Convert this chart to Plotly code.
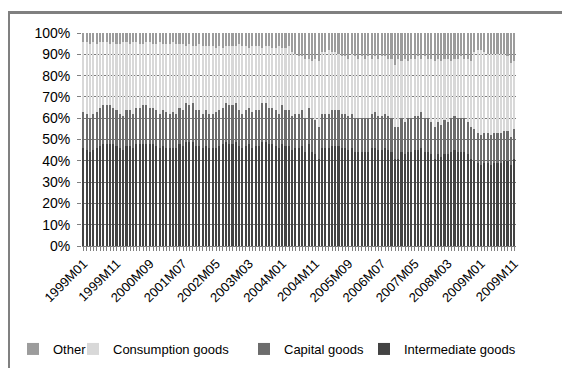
import plotly.graph_objects as go

# Months 1999M01 .. 2009M11
months = [f"{y}M{m:02d}" for y in range(1999, 2010) for m in range(1, 13)][:131]

intermediate = [46, 45, 44, 45, 46, 47, 48, 48, 48, 48, 47, 46, 45, 47, 47, 46, 48, 48, 48, 48,
                48, 48, 47, 46, 47, 46, 46, 46, 46, 48, 47, 49, 49, 49, 47,
                47, 46, 47, 46, 46, 46, 47, 48, 49, 48, 48, 49, 47, 46, 47, 48, 46, 47, 47, 49,
                49, 48, 48, 47, 46, 48, 47, 47, 45, 46, 46, 47, 44, 48, 44, 43, 41, 46, 46, 46,
                47, 47, 47, 46, 46, 45, 46, 44, 44, 44, 44, 44, 46, 46, 45,
                45, 46, 45, 44, 41, 41, 44, 43, 44, 44, 45, 45, 46, 44, 44, 43, 41, 43, 42, 43,
                43, 44, 45, 44, 44, 44, 43, 41, 40, 39, 38, 39, 39, 38, 39, 39, 39, 40, 40, 38, 41]

capital = [17, 17, 16, 17, 17, 18, 18, 18, 18, 17, 17, 16, 16, 17, 17, 16, 17, 17, 18, 18,
           17, 17, 17, 16, 17, 17, 16, 17, 16, 17, 17, 18, 17, 18, 17,
           17, 16, 17, 16, 16, 17, 17, 17, 18, 18, 18, 18, 17, 16, 17, 17, 17, 17, 17, 18,
           18, 17, 17, 17, 16, 18, 17, 17, 16, 16, 16, 17, 16, 17, 16, 16, 15, 16, 16, 16,
           17, 17, 17, 16, 16, 16, 16, 16, 16, 16, 16, 16, 16, 17, 16,
           16, 16, 16, 16, 15, 15, 16, 15, 16, 16, 16, 16, 17, 16, 16, 15, 15, 15, 15, 16,
           15, 16, 16, 16, 16, 16, 15, 15, 15, 14, 14, 14, 14, 14, 14, 14, 14, 14, 14, 13, 14]

consumption = [33, 34, 35, 34, 32, 31, 30, 30, 29, 31, 31, 33, 35, 32, 31, 34, 31, 30, 29, 30,
               31, 30, 31, 34, 31, 32, 33, 33, 33, 30,
               31, 27, 29, 27, 30,
               31, 32, 30, 32, 32, 30, 30, 28, 27, 28,
               28, 27, 31, 32, 30, 28, 31, 30, 30, 26, 27, 29, 28, 29, 32, 27, 29, 30,
               30, 28, 27, 25, 28, 23, 27, 29, 31,
               29, 29, 30, 27, 27,
               26, 27, 27, 27, 28, 29, 28, 29, 28, 29, 26, 26, 27, 28, 27, 27, 28,
               29,
               32, 27, 30, 27, 28, 27, 28, 25, 29, 28,
               30, 31, 30, 30, 29, 30, 27, 27, 28, 29, 28, 30, 31,
               36, 39, 40, 38, 37, 38, 37, 37, 37, 36, 35,
               35, 32]

other = [4, 4, 5, 4, 5, 4, 4, 4, 5, 4, 5, 5, 4, 4, 5, 4, 4, 5, 5, 4, 4, 5, 5, 4, 5, 5, 5, 4, 5, 5,
         5, 6, 5, 6, 6, 5, 6, 6, 6, 6, 7, 6, 7, 6, 6,
         6, 6, 5, 6, 6, 7, 6, 6, 6, 7, 6, 6, 7, 7, 6, 7, 7, 6,
         9, 10, 11, 11, 12, 12, 13, 12, 13,
         9, 9, 8, 9, 9,
         10, 11, 11, 12, 10, 11, 12, 11, 12, 11, 12, 11, 12, 11, 11, 12, 12,
         15,
         12, 13, 12, 13, 12, 12, 11, 12, 11, 12,
         12, 13, 12, 13, 12, 12, 13, 12, 12, 11, 12, 12, 13,
         9, 8, 8, 9, 10, 10, 10, 10, 10, 10, 11,
         14, 13]

tick_labels = ["1999M01", "1999M11", "2000M09", "2001M07", "2002M05", "2003M03", "2004M01",
               "2004M11", "2005M09", "2006M07", "2007M05", "2008M03", "2009M01", "2009M11"]
y_ticks = [0, 10, 20, 30, 40, 50, 60, 70, 80, 90, 100]

x = list(range(len(months)))
tick_pos = [months.index(t) for t in tick_labels]

# The page body adds an 8px offset; layout below is expressed in figure pixels.
OFF = 8
W, H = 570, 368
PL, PR, PT, PB = 82 - OFF, 516 - OFF, 33 - OFF, 246 - OFF   # plot area in figure px
PW, PHt = PR - PL, PB - PT

# name, values, colour, legend id, legend left (viewport px)
series = [("Intermediate goods", intermediate, "#434343", "legend4", 364),
          ("Capital goods", capital, "#6c6c6c", "legend3", 244),
          ("Consumption goods", consumption, "#d8d8d8", "legend2", 73),
          ("Other", other, "#9c9c9c", "legend", 13)]

fig = go.Figure()
legends = {}
for name, vals, col, lg, lx in series:
    fig.add_trace(go.Bar(x=x, y=vals, name=name, legend=lg,
                         marker=dict(color=col, line=dict(width=0)),
                         customdata=months,
                         hovertemplate="%{customdata}: %{y}<extra>" + name + "</extra>"))
    legends[lg] = dict(orientation="h", xref="container", yref="container",
                       x=(lx - OFF) / W, xanchor="left", y=1 - (349 - OFF) / H, yanchor="middle",
                       font=dict(size=13, color="#000000"), itemwidth=30,
                       bgcolor="rgba(0,0,0,0)")

fig.update_layout(
    width=W, height=H,
    margin=dict(l=PL, r=W - PR, t=PT, b=H - PB, autoexpand=False),
    barmode="stack", barnorm="percent", bargap=0.52,
    plot_bgcolor="white", paper_bgcolor="white",
    font=dict(family="Liberation Sans, Arial, sans-serif", color="#000000"),
    showlegend=True,
    xaxis=dict(range=[-0.5, len(months) - 0.5], tickmode="array", tickvals=tick_pos,
               ticktext=tick_labels, tickangle=-45, tickfont=dict(size=13),
               ticks="outside", ticklen=4, tickcolor="#808080", automargin=False,
               minor=dict(dtick=1, tick0=0, ticks="outside", ticklen=4, tickcolor="#808080"),
               showline=True, linecolor="#808080", showgrid=False, zeroline=False),
    yaxis=dict(range=[0, 100], tickmode="array", tickvals=y_ticks,
               ticktext=[f"{v}%" for v in y_ticks], tickfont=dict(size=14),
               ticks="outside", ticklen=4, tickcolor="#808080", automargin=False,
               ticklabelstandoff=4,
               showgrid=True, gridcolor="#7a7a7a", gridwidth=1, zeroline=False,
               showline=False),
    shapes=[dict(type="rect", xref="paper", yref="paper",
                 x0=(0.5 - PL) / PW, x1=(W + 20 - PL) / PW,
                 y0=(PB - (H + 20)) / PHt, y1=(PB - 4.5) / PHt,
                 line=dict(color="#808080", width=3), fillcolor="rgba(0,0,0,0)", layer="above")],
    **legends,
)

fig.write_html("out.html")
